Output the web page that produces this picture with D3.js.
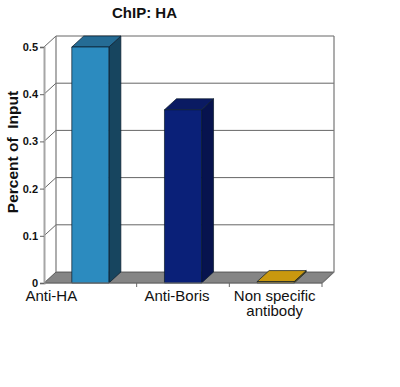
<!DOCTYPE html>
<html>
<head>
<meta charset="utf-8">
<script src="https://cdn.jsdelivr.net/npm/d3@7"></script>
<style>
  html, body { margin: 0; background: #fff; }
  text { font-family: "Liberation Sans", Arial, sans-serif; fill: #111; white-space: pre; }
</style>
</head>
<body>
<svg id="chart"></svg>
<script>
// ChIP: HA, 3d looking column chart
const categories = ["Anti-HA", "Anti-Boris", "Non specific\nantibody"];
const values = [0.5, 0.367, 0.003];
const frontColors = ["#2c8bbf", "#0a2078", "#c9980f"];
const sideColors = ["#17455f", "#07134e", "#8a6a0a"];
const topColors = ["#256c95", "#0a1a62", "#c9980f"];
const yTicks = [0, 0.1, 0.2, 0.3, 0.4, 0.5];

const width = 400,
  height = 387,
  margin = { top: 47, right: 78, bottom: 104, left: 44 },
  depthX = 12,
  depthY = 11;

const svg = d3.select("#chart").attr("width", width).attr("height", height).style("display", "block");

const yScale = d3.scaleLinear([0, 0.5], [height - margin.bottom, margin.top]);
const xScale = d3
  .scaleBand(categories, [margin.left, width - margin.right])
  .paddingInner(0.6)
  .paddingOuter(0.3);
const step = xScale.step();
const x0 = margin.left;
const x1 = width - margin.right;
const y0 = yScale(0);

const line = d3.line();
const poly = pts => line(pts) + "Z";

// floor
svg
  .append("path")
  .attr("d", poly([[x0, y0], [x0 + depthX, y0 - depthY], [x1 + depthX, y0 - depthY], [x1, y0]]))
  .attr("fill", "#858585")
  .attr("stroke", "#444")
  .attr("stroke-width", 0.8);

// back wall grid
svg
  .append("g")
  .selectAll("path")
  .data(yTicks.slice(1))
  .join("path")
  .attr("d", d => line([[x0, yScale(d)], [x0 + depthX, yScale(d) - depthY], [x1 + depthX, yScale(d) - depthY]]))
  .attr("fill", "none")
  .attr("stroke", "#666")
  .attr("stroke-width", 1);

svg
  .append("path")
  .attr("d", line([[x0 + depthX, yScale(0.5) - depthY], [x0 + depthX, y0 - depthY]]))
  .attr("stroke", "#777")
  .attr("stroke-width", 1.2);
svg
  .append("path")
  .attr("d", line([[x1 + depthX, yScale(0.5) - depthY], [x1 + depthX, y0 - depthY], [x1, y0]]))
  .attr("fill", "none")
  .attr("stroke", "#777")
  .attr("stroke-width", 1.2);

// columns
const bars = svg
  .append("g")
  .selectAll("g")
  .data(categories)
  .join("g")
  .attr("stroke", "#0a1a2a")
  .attr("stroke-width", 0.7)
  .attr("stroke-linejoin", "round");

const barLeft = d => xScale(d);
const barRight = d => xScale(d) + xScale.bandwidth();
const barTop = (d, i) => yScale(values[i]);

bars
  .append("path")
  .attr("fill", (d, i) => sideColors[i])
  .attr("d", (d, i) =>
    poly([
      [barRight(d), barTop(d, i)],
      [barRight(d) + depthX, barTop(d, i) - depthY],
      [barRight(d) + depthX, y0 - depthY],
      [barRight(d), y0]
    ])
  );
bars
  .append("path")
  .attr("fill", (d, i) => topColors[i])
  .attr("d", (d, i) =>
    poly([
      [barLeft(d), barTop(d, i)],
      [barLeft(d) + depthX, barTop(d, i) - depthY],
      [barRight(d) + depthX, barTop(d, i) - depthY],
      [barRight(d), barTop(d, i)]
    ])
  );
bars
  .append("rect")
  .attr("x", barLeft)
  .attr("y", barTop)
  .attr("width", xScale.bandwidth())
  .attr("height", (d, i) => y0 - barTop(d, i))
  .attr("fill", (d, i) => frontColors[i]);

// axes
const yAxis = d3.axisLeft(yScale).tickValues(yTicks).tickFormat(d3.format("")).tickSize(4).tickPadding(2);
svg
  .append("g")
  .attr("transform", `translate(${x0}, 0)`)
  .call(yAxis)
  .call(g => g.select(".domain").attr("stroke", "#a6a6a6").attr("stroke-width", 2))
  .call(g => g.selectAll(".tick line").attr("stroke", "#666"))
  .call(g =>
    g
      .selectAll(".tick text")
      .style("font-size", "11px")
      .style("font-weight", "bold")
      .style("font-family", '"Liberation Sans", Arial, sans-serif')
      .attr("fill", "#111")
  );

svg
  .append("path")
  .attr("d", line([[x0, y0], [x1, y0]]))
  .attr("stroke", "#777")
  .attr("stroke-width", 1.2);

svg
  .append("g")
  .selectAll("line")
  .data(categories)
  .join("line")
  .attr("x1", (d, i) => x0 + step * (i + 1))
  .attr("x2", (d, i) => x0 + step * (i + 1))
  .attr("y1", y0)
  .attr("y2", y0 + 4)
  .attr("stroke", "#666");

// category labels sit off-centre in the original
const labelShift = [-39, -6, -1];
svg
  .append("g")
  .selectAll("text")
  .data(categories)
  .join("text")
  .attr("text-anchor", "middle")
  .attr("font-size", 15)
  .attr("transform", (d, i) => `translate(${xScale(d) + xScale.bandwidth() / 2 + labelShift[i]}, 301)`)
  .selectAll("tspan")
  .data(d => d.split("\n"))
  .join("tspan")
  .attr("x", 0)
  .attr("dy", (d, i) => (i ? 15 : 0))
  .text(d => d);

svg
  .append("text")
  .attr("x", 144.5)
  .attr("y", 18)
  .attr("text-anchor", "middle")
  .attr("font-size", 15)
  .attr("font-weight", "bold")
  .text("ChIP: HA");

svg
  .append("text")
  .attr("transform", "translate(18, 152) rotate(-90)")
  .attr("text-anchor", "middle")
  .attr("font-size", 15.5)
  .attr("font-weight", "bold")
  .text("Percent of  Input");
</script>
</body>
</html>
